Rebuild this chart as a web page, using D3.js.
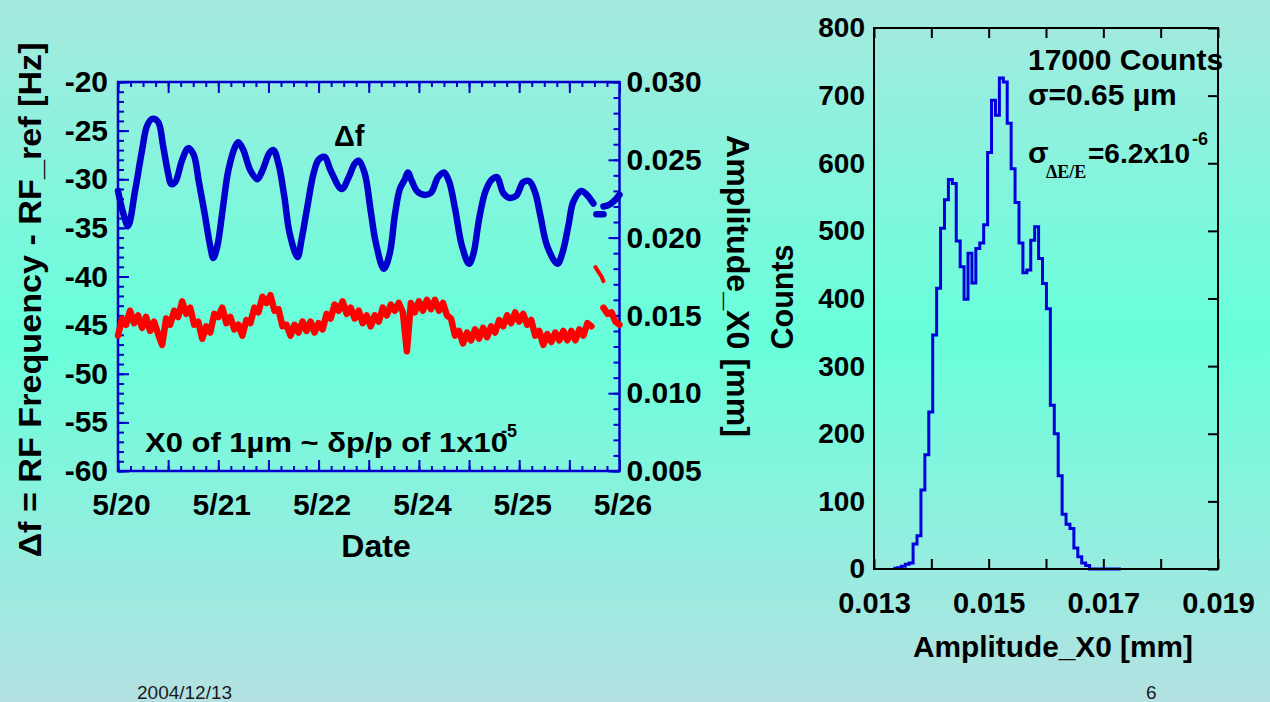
<!DOCTYPE html>
<html><head><meta charset="utf-8">
<script src="https://cdn.jsdelivr.net/npm/d3@7"></script>
<style>
html,body{margin:0;padding:0;overflow:hidden;background:#9fe9df;}
svg{display:block;}
</style></head><body>
<svg id="c" width="1270" height="702"></svg>
<script>
// ---------------- DATA ----------------
const dateLabels = ["5/20", "5/21", "5/22", "5/24", "5/25", "5/26"];
const dateLabelDays = [0, 1, 2, 3, 4, 5];
const leftTicks = [-60, -55, -50, -45, -40, -35, -30, -25, -20];
const rightTicks = [0.005, 0.010, 0.015, 0.020, 0.025, 0.030];
const histXTicks = [0.013, 0.015, 0.017, 0.019];
const histYTicks = [0, 100, 200, 300, 400, 500, 600, 700, 800];

// Δf (RF frequency - RF_ref) [Hz] vs time [days from 5/20]
const blueMain = [
  [0.00,-31.2],[0.05,-33.4],[0.10,-34.8],[0.17,-31.2],[0.24,-27.0],[0.29,-24.5],[0.34,-23.8],
  [0.40,-24.1],[0.45,-26.6],[0.50,-29.4],[0.53,-30.5],[0.57,-30.3],[0.64,-28.0],[0.70,-26.8],
  [0.755,-27.5],[0.805,-30.2],[0.86,-33.3],[0.92,-36.9],[0.95,-38.1],[0.99,-36.9],[1.045,-33.0],
  [1.10,-29.1],[1.17,-26.6],[1.20,-26.2],[1.25,-27.0],[1.32,-29.1],[1.39,-30.0],[1.44,-29.1],
  [1.51,-27.3],[1.55,-27.0],[1.60,-28.4],[1.66,-31.9],[1.71,-35.5],[1.79,-38.0],[1.83,-36.2],
  [1.885,-33.0],[1.95,-29.4],[2.00,-28.0],[2.06,-27.7],[2.12,-29.1],[2.23,-31.0],[2.30,-29.8],
  [2.36,-28.4],[2.40,-28.1],[2.46,-29.4],[2.52,-33.3],[2.57,-36.5],[2.65,-39.2],[2.71,-37.6],
  [2.76,-33.7],[2.81,-31.0],[2.86,-30.0],[2.89,-29.3],[2.93,-30.2],[2.98,-31.2],[3.05,-31.6],
  [3.12,-31.4],[3.19,-29.8],[3.25,-29.3],[3.30,-30.2],[3.36,-33.0],[3.43,-36.9],[3.50,-38.7],
  [3.545,-37.6],[3.60,-34.1],[3.665,-31.2],[3.73,-30.0],[3.78,-29.8],[3.84,-31.4],[3.90,-31.9],
  [3.97,-31.7],[4.04,-30.3],[4.10,-30.2],[4.16,-31.4],[4.21,-33.7],[4.28,-36.9],[4.38,-38.7],
  [4.43,-37.6],[4.49,-34.8],[4.54,-32.3],[4.62,-31.2],[4.675,-31.6],[4.74,-32.5]
];
const blueStray = [[4.77,-33.6],[4.84,-33.6]];
const blueTail = [[4.84,-32.8],[4.90,-32.6],[4.95,-32.2],[5.00,-31.6]];

// Amplitude_X0 [mm], sampled every redStep days from 5/20 (null = no data)
const redStep = 0.04;
const redVals = [
  0.0137,0.0148,0.0144,0.0153,0.0145,0.0150,0.0142,0.0149,0.0140,0.0146,
  0.0138,0.0131,0.0148,0.0144,0.0153,0.0149,0.0159,0.0151,0.0155,0.0144,
  0.0146,0.0135,0.0143,0.0139,0.0151,0.0149,0.0155,0.0145,0.0149,0.0141,
  0.0144,0.0137,0.0147,0.0145,0.0155,0.0152,0.0162,0.0158,0.0163,0.0153,
  0.0154,0.0143,0.0144,0.0137,0.0144,0.0139,0.0146,0.0140,0.0146,0.0139,
  0.0145,0.0141,0.0151,0.0148,0.0157,0.0153,0.0159,0.0151,0.0155,0.0148,
  0.0153,0.0145,0.0150,0.0143,0.0150,0.0146,0.0155,0.0150,0.0157,0.0153,
  0.0158,0.0152,0.0127,0.0158,0.0152,0.0159,0.0153,0.0160,0.0154,0.0160,
  0.0153,0.0158,0.0150,0.0148,0.0137,0.0140,0.0132,0.0139,0.0134,0.0141,
  0.0135,0.0142,0.0136,0.0143,0.0139,0.0147,0.0143,0.0150,0.0145,0.0152,
  0.0146,0.0151,0.0144,0.0147,0.0137,0.0140,0.0131,0.0138,0.0133,0.0139,
  0.0134,0.0140,0.0134,0.0140,0.0134,0.0141,0.0137,0.0145,0.0143,null,
  null,0.0155,0.0151,0.0152,0.0146,0.0144
];
const redStray = [[4.76,0.0181],[4.79,0.0178],[4.82,0.0175],[4.84,0.0172]];

// Histogram of Amplitude_X0
const histStart = 0.01334;
const histBinWidth = 0.0000684;
const histCounts = [
  1,2,4,7,9,37,49,117,169,232,
  346,415,504,546,576,570,485,447,399,467,
  423,474,482,509,616,693,671,726,720,659,
  592,542,482,438,442,486,506,459,422,385,
  242,200,138,81,66,60,31,18,9,5,
  0,0,0,0,0,0,0,0
];

// ---------------- DRAW ----------------
const FONT = "'Liberation Sans', Arial, Helvetica, sans-serif";
const BLUE = "#0000cc";
const svg = d3.select("#c");
const defs = svg.append("defs");
const grad = defs.append("linearGradient").attr("id", "bg")
  .attr("x1", 0).attr("y1", 0).attr("x2", 0).attr("y2", 1);
grad.append("stop").attr("offset", "0%").attr("stop-color", "#a6e9df");
grad.append("stop").attr("offset", "48%").attr("stop-color", "#67ffda");
grad.append("stop").attr("offset", "100%").attr("stop-color", "#b4e1e2");
svg.append("rect").attr("width", 1270).attr("height", 702).attr("fill", "url(#bg)");

function ticksOnly(g, color, w) {
  g.select(".domain").remove();
  g.selectAll(".tick text").remove();
  g.selectAll(".tick line").attr("stroke", color).attr("stroke-width", w);
}
function labelsOnly(g, size) {
  g.select(".domain").remove();
  g.selectAll(".tick line").remove();
  g.attr("font-family", null).attr("font-size", null);
  g.selectAll(".tick text").attr("font-family", FONT).attr("font-size", size)
    .attr("font-weight", "bold").attr("fill", "#000");
}

// ===== Left chart =====
const P = {x0: 118, x1: 619.5, y0: 82, y1: 471};
const x = d3.scaleLinear().domain([0, 5]).range([P.x0, P.x1]);
const yL = d3.scaleLinear().domain([-60, -20]).range([P.y1, P.y0]);
const yR = d3.scaleLinear().domain([0.005, 0.030]).range([P.y1, P.y0]);

const xMinor = d3.range(0, 41).map(i => i / 8);
const xMajor = d3.range(0, 11).map(i => i / 2);
const lMinor = d3.range(-60, -19);
const rMinor = d3.range(5, 31).map(i => i / 1000);

const lp = svg.append("g");
lp.append("g").attr("transform", `translate(0,${P.y1})`).call(d3.axisBottom(x).tickValues(xMinor).tickSize(-5)).call(ticksOnly, BLUE, 2);
lp.append("g").attr("transform", `translate(0,${P.y1})`).call(d3.axisBottom(x).tickValues(xMajor).tickSize(-11)).call(ticksOnly, BLUE, 2);
lp.append("g").attr("transform", `translate(0,${P.y0})`).call(d3.axisTop(x).tickValues(xMinor).tickSize(-5)).call(ticksOnly, BLUE, 2);
lp.append("g").attr("transform", `translate(0,${P.y0})`).call(d3.axisTop(x).tickValues(xMajor).tickSize(-11)).call(ticksOnly, BLUE, 2);
lp.append("g").attr("transform", `translate(${P.x0},0)`).call(d3.axisLeft(yL).tickValues(lMinor).tickSize(-6)).call(ticksOnly, BLUE, 2);
lp.append("g").attr("transform", `translate(${P.x0},0)`).call(d3.axisLeft(yL).tickValues(leftTicks).tickSize(-11)).call(ticksOnly, BLUE, 2);
lp.append("g").attr("transform", `translate(${P.x1},0)`).call(d3.axisRight(yR).tickValues(rMinor).tickSize(-6)).call(ticksOnly, BLUE, 2);
lp.append("g").attr("transform", `translate(${P.x1},0)`).call(d3.axisRight(yR).tickValues(rightTicks).tickSize(-11)).call(ticksOnly, BLUE, 2);
lp.append("rect").attr("x", P.x0).attr("y", P.y0).attr("width", P.x1 - P.x0).attr("height", P.y1 - P.y0)
  .attr("fill", "none").attr("stroke", BLUE).attr("stroke-width", 2.5);

// labels
lp.append("g").attr("transform", `translate(${P.x0},0)`)
  .call(d3.axisLeft(yL).tickValues(leftTicks).tickSize(0).tickPadding(10).tickFormat(d => String(d)))
  .call(labelsOnly, 30);
lp.append("g").attr("transform", `translate(${P.x1},0)`)
  .call(d3.axisRight(yR).tickValues(rightTicks).tickSize(0).tickPadding(7).tickFormat(d3.format(".3f")))
  .call(labelsOnly, 30);
lp.append("g").attr("transform", `translate(3,${P.y1})`)
  .call(d3.axisBottom(x).tickValues(dateLabelDays).tickSize(0).tickPadding(23).tickFormat((d, i) => dateLabels[i]))
  .call(labelsOnly, 30);

// series
const lineL = d3.line().x(d => x(d[0])).y(d => yL(d[1])).curve(d3.curveCatmullRom);
const lineR = d3.line().defined(d => d[1] != null).x(d => x(d[0])).y(d => yR(d[1]));
const redData = redVals.map((v, i) => [i * redStep, v]);
lp.append("path").datum(redData).attr("d", lineR).attr("fill", "none").attr("stroke", "#ff0000")
  .attr("stroke-width", 6.5).attr("stroke-linejoin", "round").attr("stroke-linecap", "round");
lp.append("path").datum(redStray).attr("d", lineR).attr("fill", "none").attr("stroke", "#ff0000")
  .attr("stroke-width", 4).attr("stroke-linecap", "round");
[blueMain, blueStray, blueTail].forEach(seg => {
  lp.append("path").datum(seg).attr("d", lineL).attr("fill", "none").attr("stroke", BLUE)
    .attr("stroke-width", 6.5).attr("stroke-linejoin", "round").attr("stroke-linecap", "round");
});

// titles & annotations (left)
function txt(xp, yp, s, size, opts = {}) {
  const t = svg.append("text").attr("x", xp).attr("y", yp).text(s)
    .attr("font-family", opts.family || FONT).attr("font-size", size)
    .attr("font-weight", opts.weight || "bold").attr("fill", opts.fill || "#000")
    .attr("text-anchor", opts.anchor || "start");
  if (opts.rotate !== undefined) t.attr("x", 0).attr("y", 0).attr("transform", `translate(${xp},${yp}) rotate(${opts.rotate})`);
  if (opts.len) t.attr("textLength", opts.len).attr("lengthAdjust", "spacingAndGlyphs");
  return t;
}
txt(41, 300, "\u0394f = RF Frequency - RF_ref [Hz]", 32, {anchor: "middle", rotate: -90, len: 515});
txt(727, 286, "Amplitude_X0 [mm]", 32, {anchor: "middle", rotate: 90, len: 302});
txt(376, 557, "Date", 32, {anchor: "middle"});
txt(334, 146, "\u0394f", 29);
txt(145, 452, "X0 of 1\u00b5m ~ \u03b4p/p of 1x10", 28, {len: 363});
txt(501, 437, "-5", 18);

// ===== Histogram =====
const H = {x0: 874, x1: 1218, y0: 28, y1: 569};
const hx = d3.scaleLinear().domain([0.013, 0.019]).range([H.x0, H.x1]);
const hy = d3.scaleLinear().domain([0, 800]).range([H.y1, H.y0]);
const hxAll = d3.range(13, 20).map(i => i / 1000);
const hp = svg.append("g");
hp.append("g").attr("transform", `translate(0,${H.y1})`).call(d3.axisBottom(hx).tickValues(hxAll).tickSize(-10)).call(ticksOnly, "#000", 2);
hp.append("g").attr("transform", `translate(0,${H.y0})`).call(d3.axisTop(hx).tickValues(hxAll).tickSize(-10)).call(ticksOnly, "#000", 2);
hp.append("g").attr("transform", `translate(${H.x1},0)`).call(d3.axisRight(hy).tickValues(histYTicks).tickSize(-10)).call(ticksOnly, "#000", 2);

const histPts = histCounts.map((c, i) => [histStart + i * histBinWidth, c]);
histPts.push([histStart + histCounts.length * histBinWidth, histCounts[histCounts.length - 1]]);
hp.append("path").datum(histPts)
  .attr("d", d3.line().x(d => hx(d[0])).y(d => hy(d[1])).curve(d3.curveStepAfter))
  .attr("fill", "none").attr("stroke", "#0000dd").attr("stroke-width", 3);

hp.append("rect").attr("x", H.x0).attr("y", H.y0).attr("width", H.x1 - H.x0).attr("height", H.y1 - H.y0)
  .attr("fill", "none").attr("stroke", "#000").attr("stroke-width", 2);

hp.append("g").attr("transform", `translate(${H.x0},0)`)
  .call(d3.axisLeft(hy).tickValues(histYTicks).tickSize(0).tickPadding(9).tickFormat(d3.format("d")))
  .call(labelsOnly, 28);
hp.append("g").attr("transform", `translate(0,${H.y1})`)
  .call(d3.axisBottom(hx).tickValues(histXTicks).tickSize(0).tickPadding(23).tickFormat(d3.format(".3f")))
  .call(labelsOnly, 29);

txt(793, 297, "Counts", 31, {anchor: "middle", rotate: -90, len: 105});
txt(1053, 657, "Amplitude_X0 [mm]", 30, {anchor: "middle", len: 280});
txt(1028, 70, "17000 Counts", 30);
txt(1028, 105, "\u03c3=0.65 \u00b5m", 30);
txt(1028, 163, "\u03c3", 30);
txt(1046, 178, "\u0394E/E", 18, {family: "'Liberation Serif', 'Times New Roman', serif"});
txt(1088, 163, "=6.2x10", 28);
txt(1192, 145, "-6", 18);

// footer
txt(137, 699, "2004/12/13", 19, {weight: "normal", fill: "#1a1a1a"});
txt(1146, 699, "6", 19, {weight: "normal", fill: "#1a1a1a"});
</script>
</body></html>
